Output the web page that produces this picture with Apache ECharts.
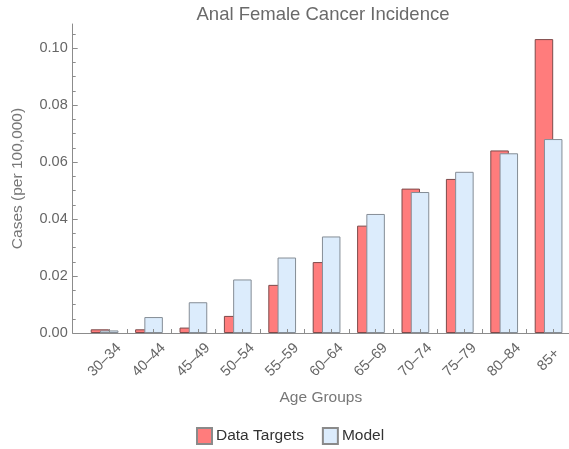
<!DOCTYPE html>
<html>
<head>
<meta charset="utf-8">
<script src="https://cdn.jsdelivr.net/npm/echarts@6/dist/echarts.min.js"></script>
<style>
  html, body { margin: 0; padding: 0; background: #fff; }
  #chart { width: 569px; height: 449px; }
</style>
</head>
<body>
<div id="chart"></div>
<script>
// Age groups on the horizontal axis (no 35–39 group in this data set)
const ageGroups = ['30–34', '40–44', '45–49', '50–54', '55–59', '60–64', '65–69', '70–74', '75–79', '80–84', '85+'];
// Observed incidence (cases per 100,000)
const dataTargets = [0.0013, 0.0013, 0.0019, 0.0060, 0.0169, 0.0249, 0.0377, 0.0507, 0.0541, 0.0641, 0.1032];
// Model-predicted incidence
const modelValues = [0.0009, 0.0056, 0.0108, 0.0188, 0.0265, 0.0339, 0.0418, 0.0495, 0.0566, 0.0631, 0.0681];
// Y tick labels
const yMajorTicks = [0, 0.02, 0.04, 0.06, 0.08, 0.10];
const yMinorTicks = [0.005, 0.01, 0.015, 0.025, 0.03, 0.035, 0.045, 0.05, 0.055, 0.065, 0.07, 0.075, 0.085, 0.09, 0.095, 0.105];

const idx = ageGroups.map((_, i) => i);
const gapTicks = idx.slice(0, -1).map(i => i + 0.5);
const innerTicks = idx.map(i => i + 0.104);

const FONT = '"Liberation Sans", Arial, sans-serif';
const AXIS = '#8c8c8c';
const LABEL = '#666666';

const chart = echarts.init(document.getElementById('chart'), null, { renderer: 'canvas' });
chart.setOption({
  animation: false,
  backgroundColor: '#ffffff',
  textStyle: { fontFamily: FONT },
  title: {
    text: 'Anal Female Cancer Incidence',
    left: 318, top: 0, textAlign: 'center',
    textStyle: { fontFamily: FONT, fontSize: 18.5, fontWeight: 'normal', color: '#6a6a6a' }
  },
  legend: {
    left: 191, top: 422,
    icon: 'rect', itemWidth: 15, itemHeight: 16, itemGap: 18,
    selectedMode: false,
    textStyle: { fontFamily: FONT, fontSize: 15.5, color: '#333', padding: [0, 0, 0, -1] },
    data: [
      { name: 'Data Targets', itemStyle: { borderColor: '#8a8a8a' } },
      { name: 'Model', itemStyle: { borderColor: '#8a8a8a' } }
    ]
  },
  grid: { left: 72.7, right: 0, top: 24, bottom: 116, outerBoundsMode: 'none', containLabel: false },
  xAxis: {
    type: 'value', min: -0.718, max: 10.46, z: 5,
    name: 'Age Groups', nameLocation: 'middle', nameGap: 57,
    nameTextStyle: { fontFamily: FONT, fontSize: 15.5, color: '#777' },
    splitLine: { show: false },
    axisLine: { show: true, onZero: false, lineStyle: { color: AXIS, width: 1 } },
    axisTick: { show: true, inside: true, length: 4, customValues: gapTicks.concat(innerTicks), lineStyle: { color: AXIS } },
    axisLabel: {
      customValues: idx, rotate: 45, align: 'center', verticalAlign: 'middle', margin: 27,
      formatter: v => ageGroups[Math.round(v)],
      fontFamily: FONT, fontSize: 14.5, color: LABEL
    }
  },
  yAxis: [{
    type: 'value', min: 0, max: 0.1085,
    name: 'Cases (per 100,000)', nameLocation: 'middle', nameGap: 47,
    nameTextStyle: { fontFamily: FONT, fontSize: 15.5, color: '#777' },
    splitLine: { show: false },
    axisLine: { show: true, onZero: false, lineStyle: { color: AXIS, width: 1 } },
    axisTick: { show: true, inside: true, length: 5, customValues: yMajorTicks, lineStyle: { color: AXIS } },
    axisLabel: {
      customValues: yMajorTicks, margin: 5,
      formatter: v => v.toFixed(2),
      fontFamily: FONT, fontSize: 14.5, color: LABEL
    }
  }, {
    type: 'value', min: 0, max: 0.1085, position: 'left',
    splitLine: { show: false },
    axisLine: { show: false, onZero: false },
    axisLabel: { show: false },
    axisTick: { show: true, inside: true, length: 3, customValues: yMinorTicks, lineStyle: { color: AXIS } }
  }],
  series: [{
    name: 'Data Targets', type: 'bar',
    barWidth: 18.5, barGap: '-50%',
    itemStyle: { color: '#ff7c7c', borderColor: '#7d4a4a', borderWidth: 1 },
    data: dataTargets.map((v, i) => [i, v])
  }, {
    name: 'Model', type: 'bar',
    barWidth: 18.5, barGap: '-50%',
    itemStyle: { color: '#dcecfc', borderColor: '#858d96', borderWidth: 1 },
    data: modelValues.map((v, i) => [i, v])
  }]
});
</script>
</body>
</html>
